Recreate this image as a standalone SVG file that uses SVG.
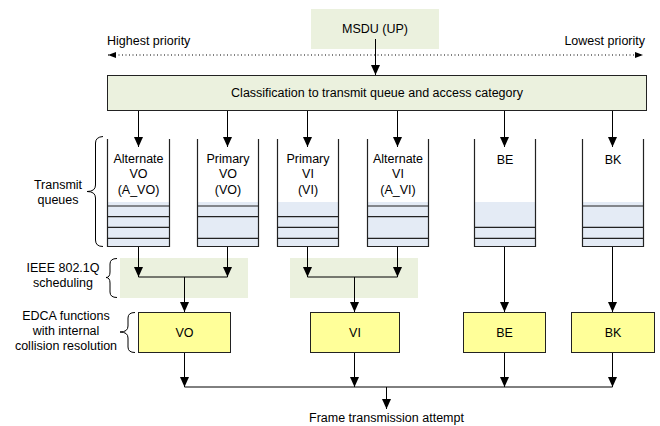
<svg xmlns="http://www.w3.org/2000/svg" width="660" height="426" viewBox="0 0 660 426">
<defs>
<marker id="ah" markerUnits="userSpaceOnUse" markerWidth="10" markerHeight="9" viewBox="0 0 10 9" refX="10" refY="4.5" orient="auto">
<path d="M0,0 L10,4.5 L0,9 z" fill="#000"/>
</marker>
<marker id="ahs" markerUnits="userSpaceOnUse" markerWidth="8" markerHeight="6" viewBox="0 0 8 6" refX="8" refY="3" orient="auto-start-reverse">
<path d="M0,0 L8,3 L0,6 z" fill="#000"/>
</marker>
<style>
text{font-family:"Liberation Sans",Arial,sans-serif;font-size:12.5px;fill:#000}
.c{text-anchor:middle}
.green{fill:#EBF1DE}
.box{stroke:#222;stroke-width:1}
.yellow{fill:#FFFF99;stroke:#222;stroke-width:1}
.qfill{fill:#E4EBF5}
.q{fill:none;stroke:#222;stroke-width:1.2}
.conn path{fill:none;stroke:#000;stroke-width:1}
.arr{marker-end:url(#ah)}
.brace{fill:none;stroke:#000;stroke-width:1}
</style>
</defs>

<g id="msdu">
<rect class="green" x="311" y="9" width="128" height="40"/>
<text class="c" x="375" y="33">MSDU (UP)</text>
</g>

<g id="priority">
<text x="107" y="45">Highest priority</text>
<text x="645" y="45" text-anchor="end">Lowest priority</text>
<path d="M108,55 H643" fill="none" stroke="#000" stroke-width="1" stroke-dasharray="1,2.5" marker-start="url(#ahs)" marker-end="url(#ahs)"/>
</g>

<g id="classification">
<rect class="green box" x="107.5" y="75.5" width="539" height="35"/>
<text class="c" x="377" y="97">Classification to transmit queue and access category</text>
</g>

<g id="q_avo">
<rect class="qfill" x="107" y="202" width="63" height="45"/>
<path class="q" d="M107,206 H170 M107,216.7 H170 M107,227.3 H170 M107,238.3 H170"/>
<path class="q" d="M107.5,139 V246.5 H169.5 V139"/>
<text class="c" x="138.5" y="163">Alternate</text>
<text class="c" x="138.5" y="178">VO</text>
<text class="c" x="138.5" y="194">(A_VO)</text>
</g>
<g id="q_pvo">
<rect class="qfill" x="197" y="202" width="62" height="45"/>
<path class="q" d="M197,206 H259 M197,216.7 H259 M197,238.3 H259"/>
<path class="q" d="M197.5,139 V246.5 H258.5 V139"/>
<text class="c" x="228" y="163">Primary</text>
<text class="c" x="228" y="178">VO</text>
<text class="c" x="228" y="194">(VO)</text>
</g>
<g id="q_pvi">
<rect class="qfill" x="277" y="202" width="62" height="45"/>
<path class="q" d="M277,216.7 H339 M277,227.3 H339 M277,238.3 H339"/>
<path class="q" d="M277.5,139 V246.5 H338.5 V139"/>
<text class="c" x="308" y="163">Primary</text>
<text class="c" x="308" y="178">VI</text>
<text class="c" x="308" y="194">(VI)</text>
</g>
<g id="q_avi">
<rect class="qfill" x="367" y="202" width="62" height="45"/>
<path class="q" d="M367,206 H429 M367,216.7 H429 M367,238.3 H429"/>
<path class="q" d="M367.5,139 V246.5 H428.5 V139"/>
<text class="c" x="398" y="163">Alternate</text>
<text class="c" x="398" y="178">VI</text>
<text class="c" x="398" y="194">(A_VI)</text>
</g>
<g id="q_be">
<rect class="qfill" x="474" y="202" width="62" height="45"/>
<path class="q" d="M474,227.3 H536 M474,238.3 H536"/>
<path class="q" d="M474.5,139 V246.5 H535.5 V139"/>
<text class="c" x="505" y="164">BE</text>
</g>
<g id="q_bk">
<rect class="qfill" x="582" y="202" width="62" height="45"/>
<path class="q" d="M582,206 H644 M582,227.3 H644 M582,238.3 H644"/>
<path class="q" d="M582.5,139 V246.5 H643.5 V139"/>
<text class="c" x="613" y="164">BK</text>
</g>

<g id="sched_vo"><rect class="green" x="120" y="258" width="128" height="40"/></g>
<g id="sched_vi"><rect class="green" x="290" y="258" width="128" height="40"/></g>

<g id="edca_vo"><rect class="yellow" x="138.5" y="312.5" width="92" height="40"/><text class="c" x="184.5" y="336.5">VO</text></g>
<g id="edca_vi"><rect class="yellow" x="310.5" y="312.5" width="89" height="40"/><text class="c" x="355" y="336.5">VI</text></g>
<g id="edca_be"><rect class="yellow" x="463.5" y="312.5" width="82" height="40"/><text class="c" x="504.5" y="336.5">BE</text></g>
<g id="edca_bk"><rect class="yellow" x="571.5" y="312.5" width="83" height="40"/><text class="c" x="613" y="336.5">BK</text></g>

<g id="labels">
<text class="c" x="58" y="189">Transmit</text>
<text class="c" x="58" y="204">queues</text>
<path class="brace" d="M103,136.5 Q95.5,137 95.5,143 V185 Q95.5,191.5 87,191.5 Q95.5,191.5 95.5,198 V240 Q95.5,246.5 103,246.5"/>
<text class="c" x="63" y="272">IEEE 802.1Q</text>
<text class="c" x="63" y="287">scheduling</text>
<path class="brace" d="M117,258.5 Q110,258.5 110,264 V272 Q110,277.5 106,277.5 Q110,277.5 110,283 V292 Q110,297.5 117,297.5"/>
<text class="c" x="66" y="320">EDCA functions</text>
<text class="c" x="66" y="335">with internal</text>
<text class="c" x="66" y="350">collision resolution</text>
<path class="brace" d="M135,312.5 Q128,312.5 128,318 V326 Q128,332 120,332 Q128,332 128,338 V347 Q128,352.5 135,352.5"/>
<text class="c" x="386.5" y="422">Frame transmission attempt</text>
</g>

<g id="connectors" class="conn">
<path class="arr" d="M375.5,39 V75"/>
<path class="arr" d="M138.5,111 V147"/>
<path class="arr" d="M227.5,111 V147"/>
<path class="arr" d="M307.5,111 V147"/>
<path class="arr" d="M397.5,111 V147"/>
<path class="arr" d="M504.5,111 V147"/>
<path class="arr" d="M612.5,111 V147"/>
<path class="arr" d="M138.5,247 V277"/>
<path class="arr" d="M227.5,247 V277"/>
<path d="M138.5,277 H227.5"/>
<path class="arr" d="M184.5,277 V312"/>
<path class="arr" d="M307.5,247 V277"/>
<path class="arr" d="M397.5,247 V277"/>
<path d="M307.5,277 H397.5"/>
<path class="arr" d="M354.5,277 V312"/>
<path class="arr" d="M504.5,247 V312"/>
<path class="arr" d="M612.5,247 V312"/>
<path class="arr" d="M184.5,353 V387"/>
<path class="arr" d="M354.5,353 V387"/>
<path class="arr" d="M504.5,353 V387"/>
<path class="arr" d="M612.5,353 V387"/>
<path d="M184.5,387 H612.5"/>
<path class="arr" d="M386.5,387 V409"/>
</g>
</svg>
